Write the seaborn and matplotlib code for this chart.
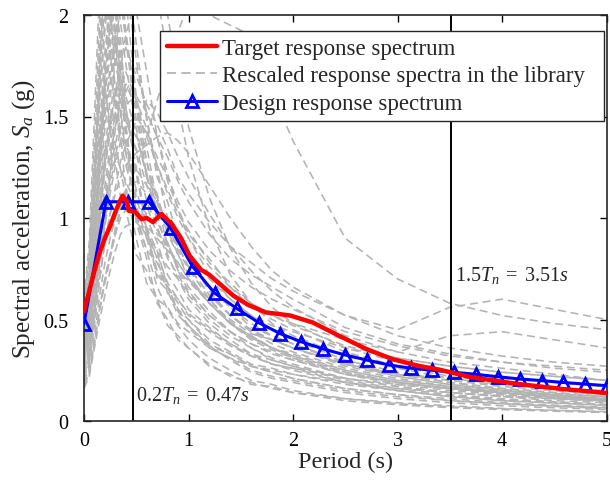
import numpy as np
import pandas as pd
import seaborn as sns
import matplotlib
matplotlib.use("Agg")
import matplotlib.pyplot as plt
from matplotlib.lines import Line2D

# ---------------- data ----------------
lib_periods = [0, 0.05, 0.1, 0.15, 0.2, 0.25, 0.3, 0.35, 0.4, 0.5, 0.6, 0.7, 0.8, 0.9,
               1.0, 1.2, 1.4, 1.6, 1.8, 2.0, 2.5, 3.0, 3.5, 4.0, 4.5, 5.0]
library_spectra = [
    [0.35,0.52,0.95,1.42,1.70,2.08,1.60,1.38,1.15,0.90,0.68,0.60,0.47,0.42,0.36,0.28,0.22,0.19,0.16,0.14,0.10,0.08,0.066,0.056,0.048,0.042],
    [0.44,0.62,1.15,1.88,2.35,1.92,2.25,1.70,1.46,1.02,0.84,0.66,0.55,0.47,0.40,0.31,0.25,0.20,0.18,0.15,0.11,0.09,0.075,0.062,0.053,0.046],
    [0.56,0.80,1.28,1.65,2.45,2.70,2.05,1.88,1.55,1.22,0.95,0.84,0.66,0.58,0.50,0.38,0.33,0.27,0.24,0.21,0.16,0.13,0.11,0.09,0.078,0.068],
    [0.60,0.88,1.50,2.15,2.60,2.25,2.02,1.62,1.42,0.98,0.80,0.58,0.50,0.40,0.36,0.27,0.23,0.18,0.17,0.14,0.11,0.085,0.07,0.06,0.052,0.045],
    [0.52,0.74,1.22,1.78,2.18,1.82,1.62,1.42,1.32,1.02,0.90,0.72,0.66,0.55,0.50,0.40,0.34,0.28,0.26,0.23,0.18,0.15,0.12,0.10,0.09,0.08],
    [0.46,0.66,1.10,1.62,1.98,2.28,2.02,1.80,1.52,1.25,0.94,0.80,0.63,0.55,0.47,0.37,0.30,0.24,0.21,0.19,0.14,0.11,0.09,0.075,0.065,0.057],
    [0.58,0.82,1.38,1.98,2.48,2.12,1.88,1.58,1.45,1.10,0.93,0.74,0.66,0.54,0.46,0.36,0.31,0.25,0.22,0.20,0.15,0.12,0.10,0.085,0.074,0.065],
    [0.49,0.70,1.15,1.68,2.08,1.78,1.98,2.22,1.92,1.55,1.20,1.02,0.82,0.70,0.60,0.48,0.40,0.33,0.28,0.26,0.19,0.15,0.12,0.10,0.088,0.077],
    [0.36,0.50,0.88,1.30,1.65,1.42,1.28,1.10,1.04,0.82,0.74,0.60,0.56,0.48,0.44,0.36,0.31,0.27,0.25,0.23,0.19,0.16,0.14,0.12,0.11,0.10],
    [0.42,0.58,0.98,1.45,1.82,2.05,2.35,2.62,2.18,1.78,1.50,1.20,1.08,0.90,0.80,0.64,0.52,0.44,0.40,0.36,0.27,0.22,0.18,0.155,0.135,0.12],
    [0.45,0.63,1.06,1.58,1.92,2.22,2.48,2.08,1.88,1.48,1.28,1.02,0.94,0.82,0.72,0.58,0.48,0.42,0.36,0.33,0.25,0.20,0.17,0.14,0.12,0.10],
    [0.50,0.71,1.20,1.75,2.12,2.42,2.78,2.32,2.08,1.60,1.35,1.08,0.97,0.84,0.75,0.60,0.49,0.41,0.36,0.32,0.24,0.19,0.16,0.13,0.115,0.10],
    [0.28,0.40,0.72,1.05,1.32,1.58,1.88,1.50,1.33,1.14,0.95,0.70,0.64,0.52,0.47,0.37,0.33,0.27,0.24,0.21,0.16,0.13,0.10,0.085,0.072,0.062],
    [0.22,0.31,0.54,0.80,0.96,1.22,1.44,1.66,1.48,1.40,1.22,1.12,0.92,0.82,0.70,0.60,0.48,0.42,0.36,0.31,0.23,0.18,0.15,0.13,0.11,0.095],
    [0.48,0.66,1.05,1.32,1.64,1.46,1.80,2.08,1.88,1.58,1.28,1.08,0.86,0.76,0.66,0.54,0.44,0.36,0.30,0.27,0.20,0.16,0.13,0.11,0.095,0.082],
    [0.38,0.53,0.86,1.22,1.50,1.72,1.55,1.82,1.60,1.42,1.20,1.10,0.96,0.90,0.80,0.66,0.56,0.46,0.42,0.38,0.28,0.22,0.18,0.15,0.13,0.11],
    [0.30,0.42,0.75,1.12,1.36,1.26,1.52,1.38,1.26,1.08,1.06,0.92,0.88,0.74,0.69,0.58,0.50,0.43,0.40,0.36,0.28,0.23,0.19,0.16,0.14,0.12],
    [0.25,0.35,0.60,0.86,1.06,1.24,1.36,1.50,1.62,1.74,1.52,1.40,1.18,1.05,0.92,0.80,0.66,0.56,0.50,0.45,0.34,0.27,0.22,0.19,0.16,0.14],
    [0.33,0.46,0.82,1.26,1.60,1.96,2.28,2.56,2.28,1.86,1.48,1.24,1.00,0.86,0.76,0.62,0.52,0.44,0.38,0.34,0.26,0.21,0.17,0.145,0.125,0.11],
    [0.40,0.56,0.93,1.32,1.62,1.80,1.64,1.52,1.36,1.22,1.00,0.88,0.72,0.64,0.55,0.46,0.38,0.32,0.28,0.25,0.19,0.15,0.125,0.105,0.09,0.078],
    [0.24,0.33,0.56,0.84,1.04,1.20,1.32,1.24,1.18,1.06,0.90,0.82,0.68,0.60,0.52,0.44,0.37,0.32,0.28,0.26,0.21,0.18,0.16,0.14,0.125,0.11],
    [0.29,0.41,0.68,1.00,1.24,1.42,1.54,1.64,1.72,1.58,1.44,1.26,1.14,1.02,0.94,0.78,0.68,0.58,0.52,0.48,0.40,0.34,0.29,0.26,0.23,0.20],
    [0.39,0.55,0.92,1.36,1.70,1.94,2.18,1.96,1.76,1.44,1.22,0.98,0.88,0.74,0.64,0.52,0.44,0.38,0.33,0.30,0.23,0.19,0.16,0.135,0.12,0.105],
    [0.31,0.44,0.72,1.04,1.28,1.50,1.36,1.24,1.10,1.00,0.84,0.78,0.66,0.60,0.53,0.45,0.38,0.33,0.30,0.27,0.21,0.17,0.14,0.125,0.11,0.10],
    [0.37,0.52,0.86,1.24,1.52,1.74,1.90,1.72,1.54,1.32,1.08,0.96,0.80,0.72,0.63,0.52,0.44,0.38,0.34,0.30,0.23,0.19,0.16,0.14,0.12,0.105],
    [0.27,0.38,0.63,0.94,1.16,1.35,1.52,1.40,1.36,1.24,1.16,1.04,0.99,0.90,0.82,0.70,0.60,0.52,0.47,0.44,0.36,0.31,0.27,0.24,0.22,0.20],
    [0.41,0.58,0.97,1.42,1.76,2.04,1.76,1.64,1.48,1.34,1.16,1.08,0.94,0.86,0.76,0.62,0.52,0.45,0.40,0.36,0.28,0.23,0.20,0.18,0.16,0.15],
    [0.34,0.47,0.80,1.16,1.44,1.66,1.92,2.18,2.42,2.02,1.72,1.40,1.22,1.04,0.90,0.72,0.60,0.52,0.45,0.40,0.30,0.24,0.20,0.17,0.15,0.13],
    [0.18,0.24,0.38,0.55,0.70,0.82,0.95,1.05,1.12,1.25,1.40,1.58,1.75,1.92,2.05,2.00,1.95,1.90,1.62,1.38,0.90,0.70,0.58,0.52,0.48,0.45],
    [0.26,0.35,0.56,0.80,0.98,1.16,1.30,1.44,1.56,1.60,1.52,1.40,1.30,1.18,1.08,0.92,0.80,0.72,0.66,0.60,0.46,0.38,0.33,0.29,0.26,0.24],
    [0.32,0.44,0.72,1.02,1.28,1.46,1.62,1.76,1.84,1.70,1.56,1.46,1.34,1.20,1.12,0.98,0.86,0.78,0.70,0.64,0.52,0.45,0.56,0.60,0.55,0.50],
    [0.21,0.29,0.48,0.70,0.88,1.02,1.12,1.20,1.26,1.32,1.36,1.40,1.42,1.38,1.32,1.16,1.00,0.86,0.74,0.66,0.52,0.42,0.36,0.32,0.29,0.27],
    [0.23,0.31,0.52,0.76,0.96,1.12,1.26,1.38,1.46,1.50,1.42,1.30,1.20,1.08,0.98,0.84,0.74,0.66,0.60,0.55,0.44,0.37,0.32,0.29,0.27,0.25],
    [0.26,0.36,0.60,0.88,1.10,1.30,1.45,1.58,1.66,1.54,1.40,1.26,1.12,1.00,0.90,0.76,0.66,0.58,0.52,0.47,0.37,0.31,0.27,0.24,0.22,0.20],
    [0.20,0.28,0.48,0.70,0.88,1.02,1.15,1.28,1.36,1.48,1.58,1.52,1.42,1.30,1.20,1.02,0.86,0.74,0.64,0.56,0.42,0.34,0.42,0.44,0.40,0.36],
    [0.18,0.24,0.40,0.55,0.68,0.80,0.92,1.04,1.10,1.04,0.96,0.90,0.84,0.78,0.70,0.58,0.48,0.41,0.36,0.32,0.25,0.20,0.17,0.15,0.13,0.12],
    [0.19,0.26,0.42,0.62,0.78,0.90,1.00,1.08,1.14,1.18,1.12,1.04,0.96,0.88,0.80,0.66,0.56,0.48,0.42,0.38,0.29,0.23,0.19,0.16,0.14,0.12],
    [0.17,0.23,0.38,0.56,0.70,0.82,0.92,1.00,1.04,1.08,1.02,0.94,0.86,0.78,0.70,0.58,0.48,0.40,0.35,0.31,0.24,0.19,0.16,0.14,0.12,0.105],
    [0.16,0.22,0.36,0.50,0.62,0.74,0.84,0.92,0.96,0.98,0.92,0.84,0.76,0.70,0.62,0.50,0.42,0.36,0.31,0.28,0.21,0.17,0.14,0.12,0.10,0.09],
    [0.40,0.55,0.90,1.30,1.60,1.85,2.10,2.30,2.50,2.60,2.40,2.10,1.80,1.55,1.30,0.95,0.72,0.58,0.48,0.42,0.32,0.26,0.21,0.18,0.16,0.14],
    [0.30,0.42,0.70,1.00,1.25,1.45,1.60,1.75,1.90,2.10,2.30,2.20,2.00,1.70,1.45,1.10,0.85,0.68,0.56,0.48,0.36,0.29,0.24,0.21,0.19,0.17],
]

target_T = [0, 0.05, 0.1, 0.15, 0.2, 0.25, 0.3, 0.35, 0.37, 0.41, 0.43, 0.49, 0.55, 0.6,
            0.66, 0.74, 0.84, 0.93, 1.01, 1.12, 1.2, 1.3, 1.43, 1.57, 1.74, 1.97, 2.19,
            2.44, 2.70, 2.95, 3.2, 3.4, 3.71, 4.16, 4.57, 5.0]
target_Sa = [0.54, 0.64, 0.74, 0.83, 0.90, 0.96, 1.03, 1.09, 1.11, 1.08, 1.035, 1.03,
             0.995, 1.0, 0.98, 1.02, 0.97, 0.90, 0.815, 0.745, 0.72, 0.675, 0.617,
             0.572, 0.535, 0.52, 0.485, 0.42, 0.355, 0.305, 0.272, 0.253, 0.215,
             0.182, 0.158, 0.138]

design_T = [0, 0.21, 0.42, 0.62, 0.83, 1.04, 1.25, 1.46, 1.67, 1.88, 2.08, 2.29, 2.5,
            2.71, 2.92, 3.13, 3.33, 3.54, 3.75, 3.96, 4.17, 4.38, 4.58, 4.79, 5.0]
design_Sa = [0.48, 1.08, 1.08, 1.08, 0.95, 0.76, 0.63, 0.555, 0.485, 0.43, 0.39, 0.355,
             0.325, 0.30, 0.276, 0.26, 0.25, 0.24, 0.23, 0.218, 0.207, 0.199, 0.19,
             0.182, 0.174]

vline_T = [0.47, 3.51]
vline_labels = [r"$0.2T_n\;=\;0.47s$", r"$1.5T_n\;=\;3.51s$"]
legend_labels = ["Target response spectrum",
                 "Rescaled response spectra in the library",
                 "Design response spectrum"]

# ---------------- style ----------------
sns.set_theme(style="ticks")
plt.rcParams["font.family"] = ["Liberation Serif", "DejaVu Serif"]
plt.rcParams["mathtext.fontset"] = "custom"
plt.rcParams["mathtext.rm"] = "Liberation Serif"
plt.rcParams["mathtext.it"] = "Liberation Serif:italic"

GRAY = "#b3b3b3"
lib_df = pd.DataFrame(
    [(i, t, v) for i, row in enumerate(library_spectra) for t, v in zip(lib_periods, row)],
    columns=["record", "T", "Sa"])
target_df = pd.DataFrame({"T": target_T, "Sa": target_Sa})
design_df = pd.DataFrame({"T": design_T, "Sa": design_Sa})

fig = plt.figure(figsize=(6.10, 4.81), dpi=100)
ax = fig.add_axes([84/610, 1-422/481, (606.5-84)/610, (422-16)/481])

sns.lineplot(data=lib_df, x="T", y="Sa", units="record", estimator=None, ax=ax,
             color=GRAY, linewidth=1.15, linestyle=(0, (5, 3)), legend=False, zorder=1)

for t in vline_T:
    ax.axvline(t, color="black", linewidth=1.4, zorder=2)

sns.lineplot(data=design_df, x="T", y="Sa", ax=ax, color="blue", linewidth=2.2,
             marker="^", markersize=8, markerfacecolor="none", markeredgecolor="blue",
             markeredgewidth=2.0, zorder=3, legend=False, estimator=None)
sns.lineplot(data=target_df, x="T", y="Sa", ax=ax, color="red", linewidth=3.2,
             zorder=4, legend=False, estimator=None)

ax.text(0.50, 0.13, vline_labels[0], fontsize=14.5, ha="left", va="center", zorder=5)
ax.text(3.55, 0.72, vline_labels[1], fontsize=14.5, ha="left", va="center", zorder=5)

ax.set_xlim(0, 5)
ax.set_ylim(0, 2)
ax.set_xticks([0, 1, 2, 3, 4, 5])
ax.set_yticks([0, 0.5, 1, 1.5, 2])
ax.set_yticklabels(["0", "0.5", "1", "1.5", "2"])
ax.tick_params(direction="in", length=5, width=1.0, top=True, right=True,
               labelsize=14.5, colors="black")
ax.tick_params(axis="y", pad=11)
ax.tick_params(axis="x", pad=7)
for s in ax.spines.values():
    s.set_visible(True)
    s.set_linewidth(1.2)
    s.set_color("#262626")
ax.set_xlabel("Period (s)", fontsize=17.5, labelpad=1)
ax.set_ylabel("Spectral acceleration, $S_a$ (g)", fontsize=18, labelpad=5)

handles = [
    Line2D([], [], color="red", linewidth=3.2),
    Line2D([], [], color=GRAY, linewidth=1.3, linestyle=(0, (5, 3))),
    Line2D([], [], color="blue", linewidth=2.2, marker="^", markersize=8,
           markerfacecolor="none", markeredgecolor="blue", markeredgewidth=2.0),
]
leg_left = (160 - 84) / 522.5
leg_right = (604 - 84) / 522.5
leg_top = (422 - 32) / 406
leg = ax.legend(handles, legend_labels, loc="upper left", mode="expand",
                bbox_to_anchor=(leg_left, 0, leg_right - leg_left, leg_top),
                fontsize=16.5, frameon=True, fancybox=False, framealpha=1,
                edgecolor="#262626", handlelength=2.2, handletextpad=0.2,
                labelspacing=0.28, borderpad=0.3, borderaxespad=0)
leg.get_frame().set_linewidth(1.0)
leg.set_zorder(10)

fig.savefig("out.png", dpi=100)
